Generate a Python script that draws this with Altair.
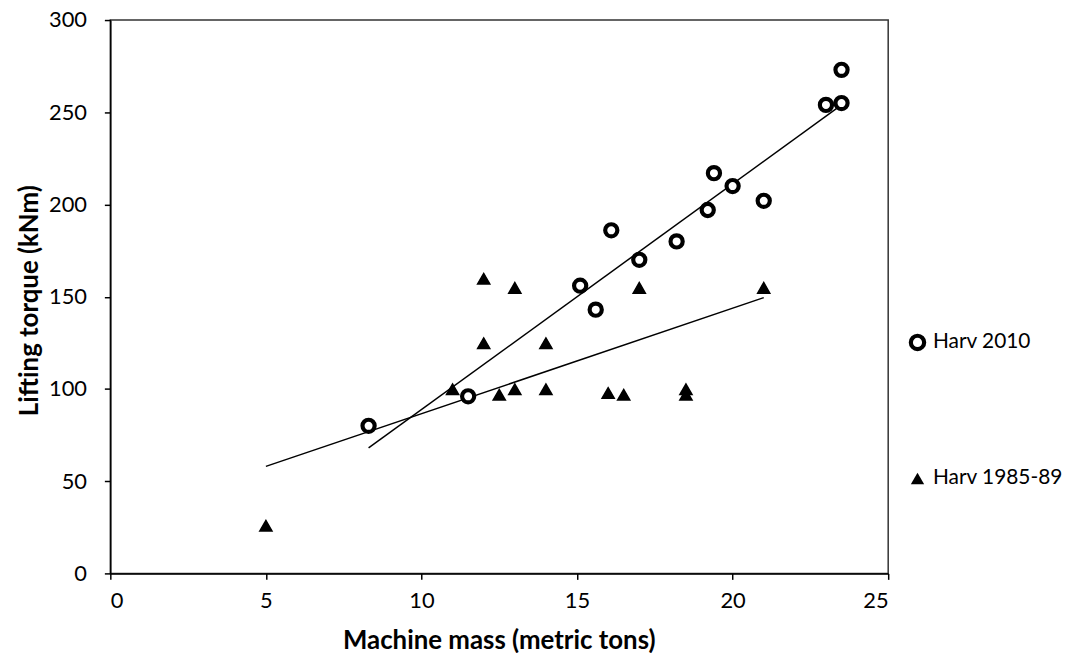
import altair as alt
import pandas as pd

# Harv 2010 (circles)
h2010_x = [8.3, 11.5, 15.1, 15.6, 16.1, 17.0, 18.2, 19.2, 19.4, 20.0, 21.0, 23.0, 23.5, 23.5]
h2010_y = [80, 96, 156, 143, 186, 170, 180, 197, 217, 210, 202, 254, 255, 273]

# Harv 1985-89 (triangles)
h85_x = [5.0, 11.0, 12.0, 12.0, 12.5, 13.0, 13.0, 14.0, 14.0, 16.0, 16.5, 17.0, 18.5, 18.5, 21.0]
h85_y = [26, 100, 160, 125, 97, 155, 100, 125, 100, 98, 97, 155, 100, 97, 155]

# Trend line end points
trend2010_x = [8.3, 23.5]
trend2010_y = [68, 254]
trend85_x = [5.0, 21.0]
trend85_y = [58, 149.5]

series = ["Harv 2010", "Harv 1985-89"]

pts = pd.DataFrame(
    {"x": h2010_x + h85_x,
     "y": h2010_y + h85_y,
     "s": [series[0]] * len(h2010_x) + [series[1]] * len(h85_x)}
)
trend = pd.DataFrame(
    {"x": trend2010_x + trend85_x,
     "y": trend2010_y + trend85_y,
     "s": [series[0]] * 2 + [series[1]] * 2}
)

FONT = "Lato"

xscale = alt.Scale(domain=[0, 25], nice=False, zero=False)
yscale = alt.Scale(domain=[0, 300], nice=False, zero=False)

xaxis = alt.Axis(
    title="Machine mass (metric tons)", values=[0, 5, 10, 15, 20, 25],
    grid=False, domainColor="black", domainWidth=1.5, tickColor="black",
    tickWidth=1.5, tickSize=6, labelFont=FONT, labelFontSize=22,
    labelColor="black", labelPadding=11, titleFont=FONT, titleFontSize=26,
    titleFontWeight="bold", titleColor="black", titleX=391, titleY=68,
    titleAlign="center", titleBaseline="middle",
)
yaxis = alt.Axis(
    title="Lifting torque (kNm)", values=[0, 50, 100, 150, 200, 250, 300],
    grid=False, domainColor="black", domainWidth=1.5, tickColor="black",
    tickWidth=1.5, tickSize=6, labelFont=FONT, labelFontSize=22,
    labelColor="black", labelPadding=18, titleFont=FONT, titleFontSize=26,
    titleFontWeight="bold", titleColor="black", titleX=-81, titleY=282,
    titleAlign="center", titleBaseline="middle", titleAngle=-90,
)

lines = alt.Chart(trend).mark_line(color="black", strokeWidth=1.5).encode(
    x=alt.X("x:Q", scale=xscale, axis=xaxis),
    y=alt.Y("y:Q", scale=yscale, axis=yaxis),
    detail="s:N",
)

points = alt.Chart(pts).mark_point(filled=True, opacity=1, stroke="black").encode(
    x=alt.X("x:Q", scale=xscale),
    y=alt.Y("y:Q", scale=yscale),
    shape=alt.Shape("s:N", scale=alt.Scale(domain=series, range=["circle", "triangle-up"]),
                    legend=alt.Legend(title=None)),
    fill=alt.Fill("s:N", scale=alt.Scale(domain=series, range=["white", "black"]),
                  legend=alt.Legend(title=None)),
    strokeWidth=alt.StrokeWidth("s:N", scale=alt.Scale(domain=series, range=[4.2, 0.01]),
                                legend=alt.Legend(title=None)),
    size=alt.value(150),
)

tri_size = alt.Chart(pts).transform_filter(alt.datum.s == series[1]).mark_point(
    filled=True, opacity=1, color="black", shape="triangle-up", size=220
).encode(
    x=alt.X("x:Q", scale=xscale),
    y=alt.Y("y:Q", scale=yscale),
)

chart = alt.layer(lines, points, tri_size).properties(
    width=783, height=557,
    background="white",
    autosize=alt.AutoSizeParams(type="none"),
    padding={"left": 103, "top": 10, "right": 182, "bottom": 78},
).configure_view(
    stroke="#333333", strokeWidth=1.5
).configure_legend(
    orient="none", legendX=802, legendY=314, rowPadding=110,
    labelFont=FONT, labelFontSize=21, labelColor="black",
    symbolSize=180, labelOffset=5, padding=0,
)

chart.save("out.html", embed_options={"renderer": "svg", "actions": False})
